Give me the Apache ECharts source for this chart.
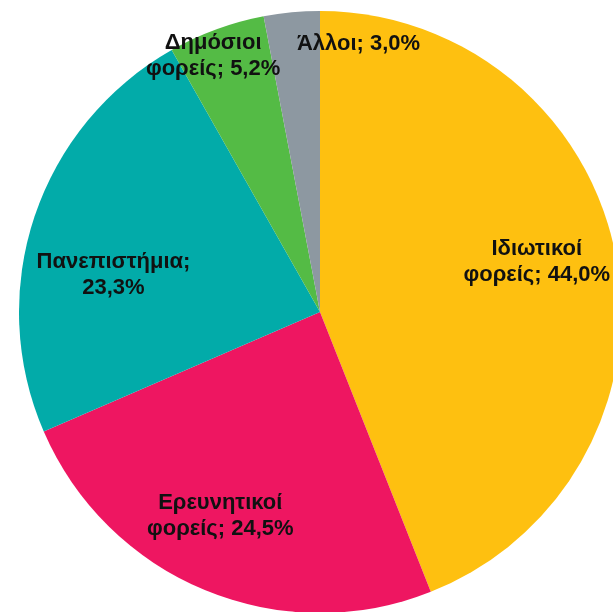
<!DOCTYPE html>
<html>
<head>
<meta charset="utf-8">
<title>Κατανομή ανά φορέα</title>
<script type="text/javascript" src="https://cdn.jsdelivr.net/npm/echarts@6/dist/echarts.min.js"></script>
<style>
  html, body { margin: 0; padding: 0; background: #fff; }
  #main { width: 613px; height: 612px; }
</style>
</head>
<body>
<div id="main"></div>
<script type="text/javascript">
// δεδομένα
var names = ['Ιδιωτικοί\nφορείς', 'Ερευνητικοί\nφορείς', 'Πανεπιστήμια', 'Δημόσιοι\nφορείς', 'Άλλοι'];
var values = [44.0, 24.5, 23.3, 5.2, 3.0];
var labelSep = ['; ', '; ', ';\n', '; ', '; '];
var colors = ['#FEC010', '#EE1661', '#02ABA9', '#54BB45', '#8D98A1'];

// μετατόπιση ετικετών από τη θέση "inside"
var labelShift = [[66, -21], [-41, 62], [-61, 12], [-54, -112], [53, -115]];

var chart = echarts.init(document.getElementById('main'));

chart.setOption({
    animation: false,
    series: [{
        type: 'pie',
        center: [320, 312],
        radius: 301,
        startAngle: 90,
        clockwise: true,
        avoidLabelOverlap: false,
        silent: true,
        data: values.map(function (v, i) {
            return { name: names[i], value: v, itemStyle: { color: colors[i] } };
        }),
        label: {
            show: true,
            position: 'inside',
            color: '#111',
            fontFamily: 'Liberation Sans',
            fontWeight: 'bold',
            fontSize: 22,
            lineHeight: 26,
            formatter: function (p) {
                return p.name + labelSep[p.dataIndex] + p.value.toFixed(1).replace('.', ',') + '%';
            }
        },
        labelLayout: function (p) {
            var s = labelShift[p.dataIndex];
            return { dx: s[0], dy: s[1] };
        },
        labelLine: { show: false }
    }]
});
</script>
</body>
</html>
